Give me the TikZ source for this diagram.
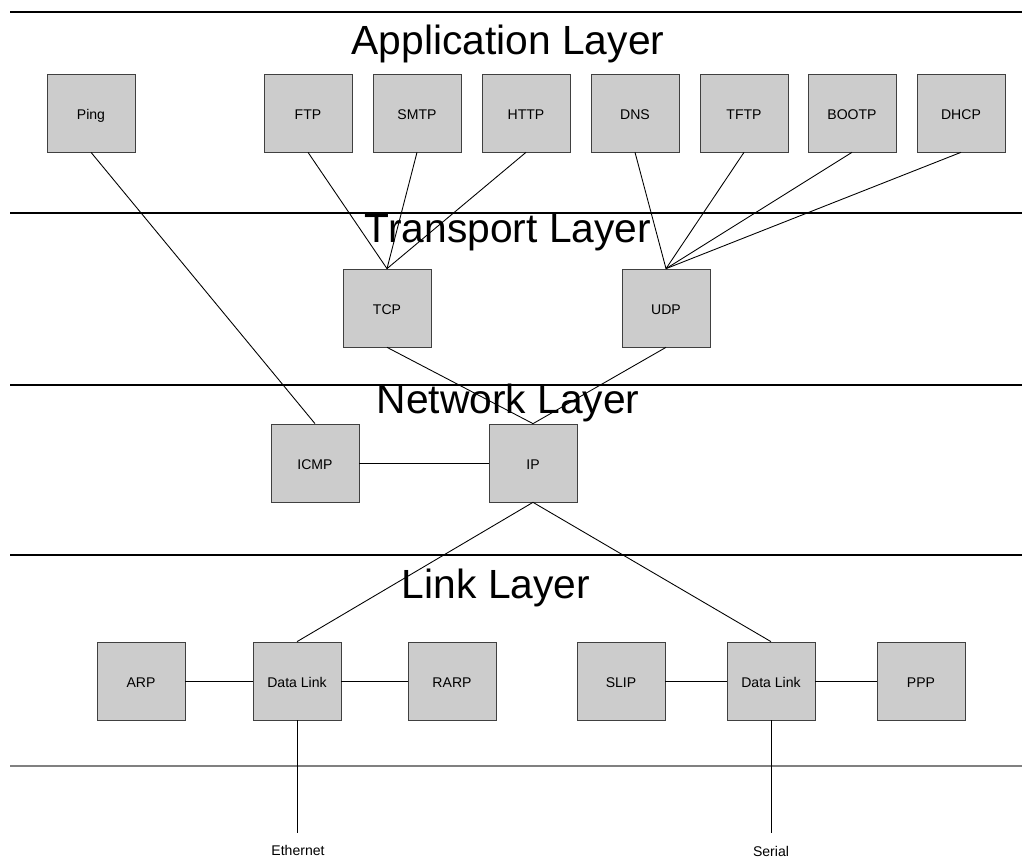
\documentclass[tikz,border=0pt]{standalone}
\usepackage{fontspec}
\setmainfont{Liberation Sans}
\tikzset{
  proto/.style={draw=black!75, fill=black!20, minimum width=1.76cm, minimum height=1.56cm, inner sep=0pt, text height=1.6ex, text depth=0.3ex, font=\fontsize{8}{9}\selectfont},
  layer/.style={font=\fontsize{23.2}{24}\selectfont, inner sep=0pt},
  wire/.style={draw=black, line width=0.5pt},
}
\begin{document}
\begin{tikzpicture}[x=0.02cm, y=-0.02cm]
    \useasboundingbox (0,0) rectangle (1022,857);

    % 绘制分层线
    \draw[line width=0.6pt] (10,12) -- (1022,12);
    \draw[line width=0.6pt] (10,213) -- (1022,213);
    \draw[line width=0.6pt] (10,385) -- (1022,385);
    \draw[line width=0.6pt] (10,555) -- (1022,555);
    \draw[black!50, line width=1pt] (10,766) -- (1022,766);

    % 绘制层名称
    \node[layer] (applabel) at (508,44) {Application Layer};
    \node[layer] (translabel) at (508,233) {Transport Layer};
    \node[layer] (netlabel) at (508,403) {Network Layer};
    \node[layer] (linklabel) at (496,588) {Link Layer};

    % 绘制应用层协议
    \node[proto] (ping) at (91,113) {Ping};
    \node[proto] (ftp) at (308,113) {FTP};
    \node[proto] (smtp) at (417,113) {SMTP};
    \node[proto] (http) at (526,113) {HTTP};
    \node[proto] (dns) at (635,113) {DNS};
    \node[proto] (tftp) at (744,113) {TFTP};
    \node[proto] (bootp) at (852,113) {BOOTP};
    \node[proto] (dhcp) at (961,113) {DHCP};

    % 绘制传输层和网络层协议
    \node[proto] (tcp) at (387,308) {TCP};
    \node[proto] (udp) at (666,308) {UDP};
    \node[proto] (icmp) at (315,463) {ICMP};
    \node[proto] (ip) at (533,463) {IP};

    % 绘制链路层协议
    \node[proto] (arp) at (141,681) {ARP};
    \node[proto] (dlink1) at (297,681) {Data Link};
    \node[proto] (rarp) at (452,681) {RARP};
    \node[proto] (slip) at (621,681) {SLIP};
    \node[proto] (dlink2) at (771,681) {Data Link};
    \node[proto] (ppp) at (921,681) {PPP};

    % 绘制物理介质
    \coordinate (ethend) at (297,833);
    \coordinate (serend) at (771,833);
    \node[font=\fontsize{8}{9}\selectfont, inner sep=1pt] (ether) at (298,850) {Ethernet};
    \node[font=\fontsize{8}{9}\selectfont, inner sep=1pt] (serial) at (771,851) {Serial};

    % 绘制连接线
    \draw[wire] (ping.south) -- (icmp.north);
    \foreach \app in {ftp,smtp,http}
        \draw[wire] (\app.south) -- (tcp.north);
    \foreach \app in {dns,tftp,bootp,dhcp}
        \draw[wire] (\app.south) -- (udp.north);
    \draw[wire] (tcp.south) -- (ip.north);
    \draw[wire] (udp.south) -- (ip.north);
    \draw[wire] (icmp.east) -- (ip.west);
    \draw[wire] (ip.south) -- (dlink1.north);
    \draw[wire] (ip.south) -- (dlink2.north);
    \draw[wire] (arp.east) -- (dlink1.west);
    \draw[wire] (dlink1.east) -- (rarp.west);
    \draw[wire] (slip.east) -- (dlink2.west);
    \draw[wire] (dlink2.east) -- (ppp.west);
    \draw[wire] (dlink1.south) -- (ethend);
    \draw[wire] (dlink2.south) -- (serend);

\end{tikzpicture}
\end{document}
